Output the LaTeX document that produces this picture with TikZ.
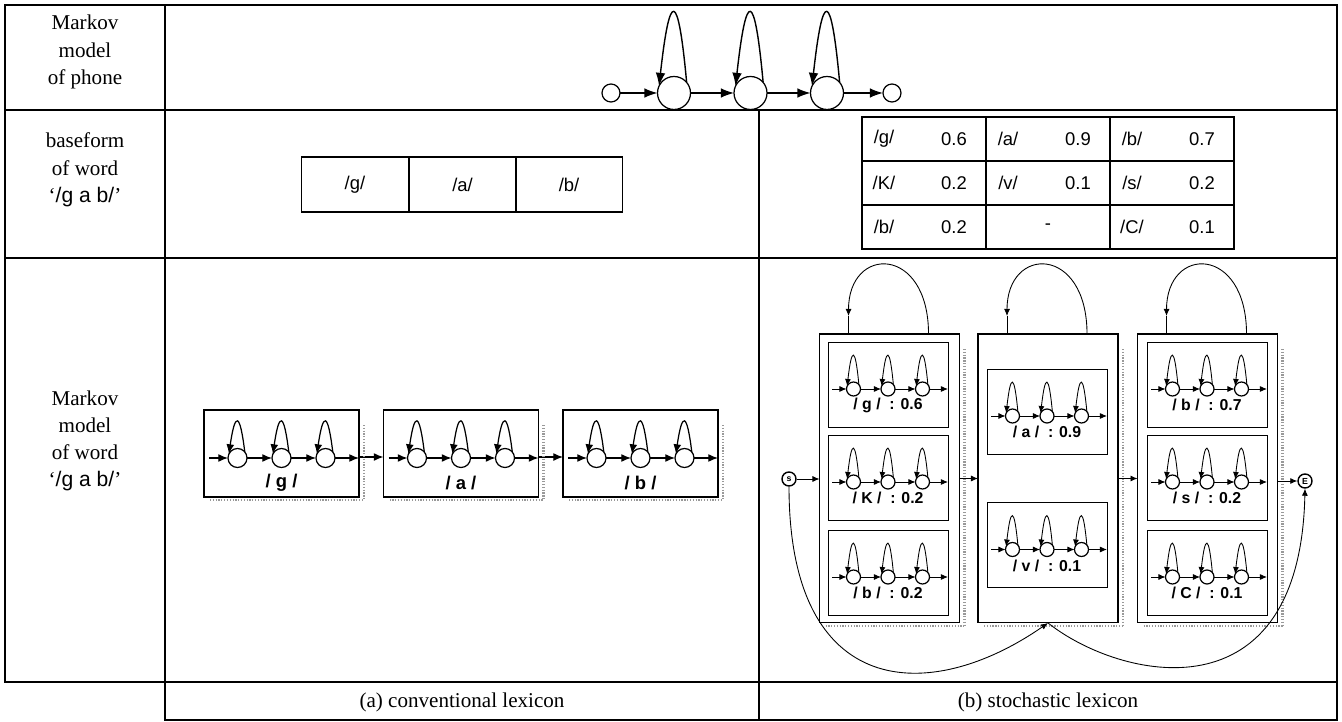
\documentclass[tikz,border=0pt]{standalone}
\usepackage{fontspec}
\setmainfont{Liberation Serif}
\setsansfont{Liberation Sans}
\usetikzlibrary{arrows.meta, positioning, calc}

% chain of three states with self loops: prefix, x, y, spacing, radius, loop height, arrow style
\newcommand{\hmmchain}[7]{%
  \foreach \k in {1,2,3}
    \node[hmmstate, minimum size={#5*0.04cm}] (#1\k) at ({#2+(\k-2)*#4},{#3}) {};
  \foreach \k in {1,2,3}
    \draw[#7] (#1\k.40) .. controls +({-0.52*#5},{0.64*#5-(#6-0.13*#5)/0.75}) and +({0.65*#5},{0.42*#5-(#6-0.13*#5)/0.75}) .. (#1\k.155);
  \draw[#7] (#11) -- (#12);
  \draw[#7] (#12) -- (#13);
}
% one phone model of the stochastic lexicon: name, x, y, label
\newcommand{\phonebox}[4]{%
  \node[ibox] (#1) at (#2,#3) {};
  \hmmchain{#1c}{#2}{#3+4.5}{34.5}{7}{33}{arrS}
  \coordinate (#1in) at ({#2-56},{#3+4.5});
  \draw[arrS] (#1in) -- (#1c1);
  \draw[arrS] (#1c3) -- (#1c3 -| #1.east);
  \node[ilabel] (#1lab) at (#2,{#3+20.5}) {#4};
}

\begin{document}
\begin{tikzpicture}[x=0.02cm, y=-0.02cm,
    tableline/.style={line width=1pt},
    rowlabel/.style={font=\fontsize{12}{15.5}\selectfont, align=center},
    captiontext/.style={font=\fontsize{12}{14}\selectfont},
    hmmstate/.style={draw, circle, inner sep=0pt, outer sep=0pt, line width=0.7pt},
    arrL/.style={-{Latex[length=7.5pt, width=5.5pt]}, line width=0.8pt},
    arrM/.style={-{Latex[length=5.5pt, width=4.5pt]}, line width=0.7pt},
    arrS/.style={-{Latex[length=4pt, width=3.4pt]}, line width=0.5pt},
    thinline/.style={line width=0.5pt},
    cell/.style={draw, line width=0.8pt, minimum width=2.14cm, minimum height=1.1cm, inner sep=0pt,
                 font=\sffamily\fontsize{10.5}{12}\selectfont},
    ptext/.style={font=\sffamily\fontsize{10.5}{12}\selectfont, inner sep=0pt},
    cbox/.style={draw, line width=0.7pt, minimum width=3.1cm, minimum height=1.74cm, inner sep=0pt, outer sep=0pt},
    clabel/.style={font=\sffamily\bfseries\fontsize{10.5}{12}\selectfont, inner sep=0pt},
    obox/.style={draw, line width=0.6pt, minimum width=2.8cm, minimum height=5.78cm, inner sep=0pt, outer sep=0pt},
    ibox/.style={draw, line width=0.5pt, minimum width=2.4cm, minimum height=1.7cm, inner sep=0pt, outer sep=0pt},
    ilabel/.style={font=\sffamily\bfseries\fontsize{9}{10}\selectfont, inner sep=0pt},
    endstate/.style={draw, circle, line width=0.8pt, minimum size=0.28cm, inner sep=0pt,
                     font=\sffamily\bfseries\fontsize{5}{5}\selectfont},
    scanshadow/.style={black!40, line width=1.6pt, dash pattern=on 0.7pt off 0.9pt}
  ]
  \useasboundingbox (0,0) rectangle (1342,722);

  % table frame
  \draw[tableline] (5,5) rectangle (1337,682);
  \draw[tableline] (5,110) -- (1337,110);
  \draw[tableline] (5,258) -- (1337,258);
  \draw[tableline] (165,5) -- (165,720) -- (1337,720) -- (1337,682);
  \draw[tableline] (759,110) -- (759,720);

  \node[rowlabel] (lab1) at (85,52) {Markov\\model\\of phone};
  \node[rowlabel] (lab2) at (85,170) {baseform\\of word\\‘{\sffamily /g a b/}’};
  \node[rowlabel] (lab3) at (85,441) {Markov\\model\\of word\\‘{\sffamily /g a b/}’};
  \node[captiontext] (capa) at (462,702) {(a) conventional lexicon};
  \node[captiontext] (capb) at (1048,702) {(b) stochastic lexicon};

  % markov model of phone
  \node[hmmstate, minimum size=0.36cm] (pin) at (611,93) {};
  \hmmchain{p}{750.5}{93}{76.5}{16.5}{80}{arrL}
  \node[hmmstate, minimum size=0.36cm] (pout) at (892,93) {};
  \draw[arrL] (pin) -- (p1);
  \draw[arrL] (p3) -- (pout);

  % baseforms
  \node[cell] (bg) at (355,184.5) {/g/};
  \node[cell] (ba) at (462.5,184.5) {/a/};
  \node[cell] (bb) at (569,184.5) {/b/};

  \draw[line width=0.8pt] (862,117) rectangle (1234,249);
  \draw[line width=0.8pt] (986,117) -- (986,249) (1110,117) -- (1110,249)
                          (862,161) -- (1234,161) (862,205) -- (1234,205);
  \foreach \ph/\pr/\cx/\cy in {g/0.6/862/139, a/0.9/986/139, b/0.7/1110/139,
                               K/0.2/862/183, v/0.1/986/183, s/0.2/1110/183,
                               b/0.2/862/227, C/0.1/1110/227} {
    \node[ptext] (ph-\cx-\cy) at (\cx+22,\cy) {/\ph/};
    \node[ptext] (pr-\cx-\cy) at (\cx+92,\cy) {\pr};
  }
  \node[ptext] (dash) at (1048,227) {-};

  % conventional lexicon
  \node[cbox] (gbox) at (281.5,453.5) {};
  \node[cbox] (abox) at (461,453.5) {};
  \node[cbox] (bbox) at (640.5,453.5) {};
  \hmmchain{g}{281.5}{458}{44}{9.5}{36}{arrM}
  \hmmchain{a}{461}{458}{44}{9.5}{36}{arrM}
  \hmmchain{b}{640.5}{458}{44}{9.5}{36}{arrM}
  \foreach \ph in {g, a, b} {
    \coordinate (\ph in) at ($(\ph box.west |- \ph1)+(5,0)$);
    \draw[arrM] (\ph in) -- (\ph1);
    \draw[arrM] (\ph3) -- (\ph3 -| \ph box.east);
    \node[clabel] (\ph lab) at (\ph2 |- 0,483) {/ \ph\ /};
  }
  \draw[arrM] ([yshift=-2pt]gbox.east) -- ([yshift=-2pt]abox.west);
  \draw[arrM] ([yshift=-2pt]abox.east) -- ([yshift=-2pt]bbox.west);

  % stochastic lexicon
  \node[obox] (colg) at (889.5,478.5) {};
  \node[obox] (cola) at (1048,478.5) {};
  \node[obox] (colb) at (1207.5,478.5) {};
  \phonebox{g6}{888}{384.5}{/ g / \ : 0.6}
  \phonebox{K2}{888}{477.5}{/ K / \ : 0.2}
  \phonebox{b2}{888}{572.5}{/ b / \ : 0.2}
  \phonebox{a9}{1047}{411.5}{/ a / \ : 0.9}
  \phonebox{v1}{1047}{545}{/ v / \ : 0.1}
  \phonebox{b7}{1207}{384.5}{/ b / \ : 0.7}
  \phonebox{s2}{1207}{477.5}{/ s / \ : 0.2}
  \phonebox{C1}{1207}{572.5}{/ C / \ : 0.1}

  \foreach \bx in {gbox, abox, bbox, colg, cola, colb} {
    \draw[scanshadow] ($(\bx.north east)+(5,15)$) -- ($(\bx.south east)+(5,3)$);
    \draw[scanshadow] ($(\bx.south west)+(6,3)$) -- ($(\bx.south east)+(5,3)$);
  }

  \node[endstate] (start) at (789,479) {s};
  \node[endstate] (stop) at (1305,481) {E};
  \draw[arrS] (start) -- (start -| colg.west);
  \draw[arrS] (colg.east) -- (cola.west);
  \draw[arrS] (cola.east) -- (colb.west);
  \draw[arrS] (colb.east |- stop) -- (stop);

  \foreach \col in {colg, cola, colb} {
    \coordinate (\col-up) at ($(\col.north west)+(109,0)$);
    \coordinate (\col-tip) at ($(\col.north west)+(29,-18)$);
    \coordinate (\col-in) at ($(\col.north west)+(29,0)$);
    \draw[arrS] (\col-up) .. controls +(0,-89) and +(0,-71) .. (\col-tip);
    \draw[thinline] (\col-tip) -- (\col-in);
  }

  \draw[arrS] (start.south) .. controls +(0,214) and +(-118,82) .. (cola.south);
  \draw[arrS] (cola.south) .. controls +(72,57) and +(-5,232) .. (stop.south);
\end{tikzpicture}
\end{document}
